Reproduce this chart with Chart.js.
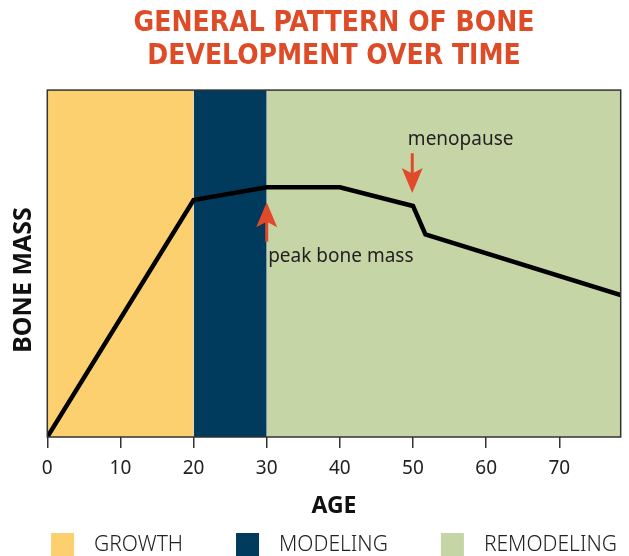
<!DOCTYPE html>
<html><head><meta charset="utf-8">
<script src="https://cdn.jsdelivr.net/npm/chart.js@4.4.1/dist/chart.umd.min.js"></script>
<style>html,body{margin:0;padding:0;background:#fff;overflow:hidden}#wrap{width:629px;height:556px;position:relative}</style>
</head><body><div id="wrap"><canvas id="c" width="629" height="556"></canvas></div>
<script>
// ---- data ----
const ages = [0, 20, 30, 40, 50, 51.7, 78.4];
const boneMass = [0, 68.3, 72.0, 72.0, 66.6, 58.4, 40.9];
const xTicks = [0, 10, 20, 30, 40, 50, 60, 70];
const bandLabels = ['GROWTH', 'MODELING', 'REMODELING'];
const bandStart = [0, 20, 30];
const bandEnd = [20, 30, 78.4];
const bandColors = ['#FCD06F', '#003A5D', '#C5D5A5'];
const titleLines = ['GENERAL PATTERN OF BONE', 'DEVELOPMENT OVER TIME'];

const datasets = [{
  label: 'Bone mass',
  data: ages.map((a, i) => ({x: a, y: boneMass[i]})),
  borderColor: '#000', borderWidth: 4.5, pointRadius: 0, tension: 0,
  fill: false, order: 0, borderJoinStyle: 'miter'
}];
bandLabels.forEach((l, i) => datasets.push({
  label: l,
  data: [{x: bandStart[i], y: 100}, {x: bandEnd[i], y: 100}],
  backgroundColor: bandColors[i], borderColor: bandColors[i], borderWidth: 0,
  pointRadius: 0, fill: 'origin', order: 1, isBand: true
}));

const decor = {
  id: 'decor',
  afterDatasetsDraw(chart, args, opts) {
    const {ctx, chartArea: a, scales: {x, y}} = chart;
    ctx.save();
    ctx.strokeStyle = '#333'; ctx.lineWidth = 1.5;
    ctx.strokeRect(a.left, a.top, a.width, a.height);
    opts.arrows.forEach(ar => {
      const px = x.getPixelForValue(ar.x);
      const y0 = y.getPixelForValue(ar.from), y1 = y.getPixelForValue(ar.to);
      const dir = Math.sign(y1 - y0), hl = 25, hw = 21;
      ctx.strokeStyle = ctx.fillStyle = '#E04A2A';
      ctx.lineWidth = 3;
      ctx.beginPath(); ctx.moveTo(px, y0); ctx.lineTo(px, y1 - dir * hl * 0.7); ctx.stroke();
      ctx.beginPath();
      ctx.moveTo(px, y1);
      ctx.lineTo(px - hw / 2, y1 - dir * hl);
      ctx.lineTo(px, y1 - dir * hl * 0.78);
      ctx.lineTo(px + hw / 2, y1 - dir * hl);
      ctx.closePath(); ctx.fill();
      ctx.fillStyle = '#222';
      ctx.font = '19px "Noto Sans"';
      ctx.textAlign = 'left'; ctx.textBaseline = 'middle';
      ctx.fillText(ar.label, x.getPixelForValue(ar.lx), y.getPixelForValue(ar.ly));
    });
    ctx.restore();
  },
  afterDraw(chart) {
    const {ctx, chartArea: a} = chart;
    ctx.save();
    // y axis title
    ctx.fillStyle = '#111';
    ctx.font = 'bold 25px "Noto Sans"';
    ctx.textAlign = 'center'; ctx.textBaseline = 'middle';
    ctx.translate(24, 280); ctx.rotate(-Math.PI / 2);
    ctx.fillText('BONE MASS', 0, 0);
    ctx.setTransform(1, 0, 0, 1, 0, 0);
    // legend
    const items = chart.data.datasets.filter(d => d.isBand);
    ctx.font = '300 21px "Noto Sans"';
    const box = 23, gap = 20, sep = 53;
    const widths = items.map(d => ctx.measureText(d.label).width);
    const total = widths.reduce((s, w) => s + box + gap + w, 0) + sep * (items.length - 1);
    let cx = (a.left + a.right) / 2 - total / 2;
    ctx.textAlign = 'left'; ctx.textBaseline = 'middle';
    items.forEach((d, i) => {
      ctx.fillStyle = d.backgroundColor;
      ctx.fillRect(cx, 533, box, 26);
      ctx.fillStyle = '#222';
      ctx.fillText(d.label, cx + box + gap, 545);
      cx += box + gap + widths[i] + sep;
    });
    ctx.restore();
  }
};

new Chart(document.getElementById('c'), {
  type: 'line',
  data: {datasets},
  plugins: [decor],
  options: {
    responsive: false, animation: false, devicePixelRatio: 1,
    layout: {padding: {left: 0, right: 8.3, top: 0, bottom: 36}},
    plugins: {
      legend: {display: false}, tooltip: {enabled: false},
      title: {
        display: true, fullSize: false, text: titleLines, color: '#DE4B27',
        font: {family: "'DejaVu Sans Condensed','Liberation Sans Narrow',sans-serif", size: 28, weight: 'bold', lineHeight: 1.18},
        padding: {top: 7, bottom: 17}
      },
      decor: {
        arrows: [
          {x: 30, from: 56.3, to: 67.7, label: 'peak bone mass', lx: 30.2, ly: 51.9},
          {x: 49.9, from: 81.8, to: 70.3, label: 'menopause', lx: 49.3, ly: 85.6}
        ]
      }
    },
    scales: {
      x: {
        type: 'linear', min: 0, max: 78.4,
        afterBuildTicks: s => { s.ticks = xTicks.map(v => ({value: v})); },
        afterFit: s => { s.height = 83; },
        grid: {drawOnChartArea: false, drawTicks: true, tickLength: 11, color: '#333', lineWidth: 1.5},
        border: {display: false},
        ticks: {font: {family: 'Noto Sans', size: 19}, color: '#222', padding: 9, maxRotation: 0, autoSkip: false},
        title: {display: true, text: 'AGE', font: {family: 'Noto Sans', size: 23, weight: 'bold'}, color: '#111', padding: {top: 4, bottom: 0}}
      },
      y: {
        min: 0, max: 100,
        afterFit: s => { s.width = 47.3; },
        ticks: {display: false}, grid: {display: false}, border: {display: false}
      }
    }
  }
});
</script></body></html>
